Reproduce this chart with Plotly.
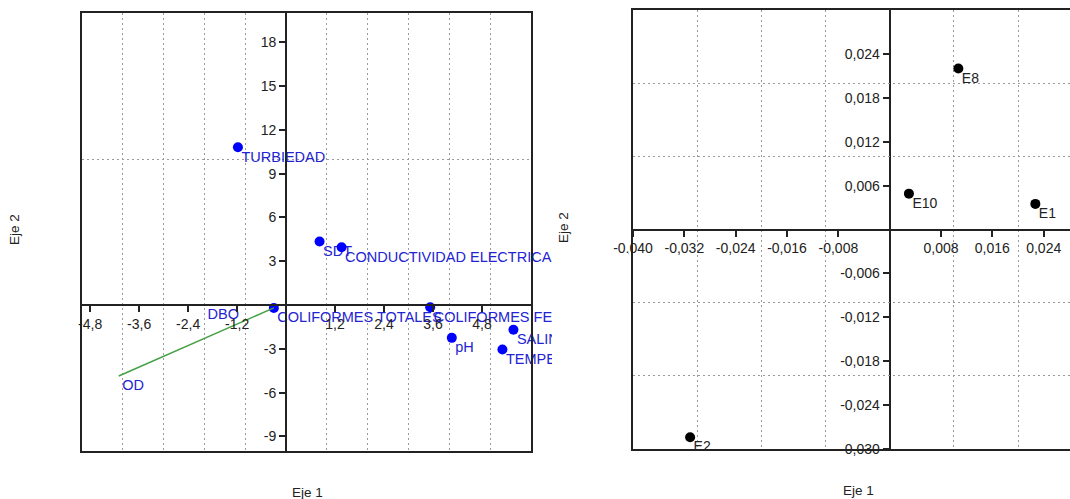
import plotly.graph_objects as go

# ---------------- data ----------------
var_names = ["TURBIEDAD", "SDT", "CONDUCTIVIDAD ELECTRICA", "COLIFORMES TOTALES",
             "COLIFORMES FECALES", "pH", "SALINIDAD", "TEMPERATURA", "DBO", "OD"]
var_x = [-1.18, 0.82, 1.36, -0.30, 3.53, 4.06, 5.57, 5.30, -2.01, -4.10]
var_y = [10.80, 4.35, 3.95, -0.20, -0.15, -2.25, -1.70, -3.05, 0.00, -4.86]
var_dot = [True, True, True, True, True, True, True, True, False, False]
od_link = ["OD", "COLIFORMES TOTALES"]

left_grid_x = [-4, -3, -2, -1, 1, 2, 3, 4, 5]
left_grid_y = [10]
left_ticks_x = [-4.8, -3.6, -2.4, -1.2, 1.2, 2.4, 3.6, 4.8]
left_ticks_y = [18, 15, 12, 9, 6, 3, -3, -6, -9]

site_names = ["E8", "E10", "E1", "E2"]
site_x = [0.0107, 0.0030, 0.0227, -0.0311]
site_y = [0.0220, 0.0049, 0.0035, -0.0284]

right_grid_x = [-0.03, -0.02, -0.01, 0.01, 0.02]
right_grid_y = [-0.02, -0.01, 0.01, 0.02]
right_ticks_x = [-0.040, -0.032, -0.024, -0.016, -0.008, 0.008, 0.016, 0.024]
right_ticks_y = [0.024, 0.018, 0.012, 0.006, -0.006, -0.012, -0.018, -0.024, -0.030]

left_range_x = [-5, 6]
left_range_y = [-10, 20]
right_range_x = [-0.040, 0.0281]
right_range_y = [-0.030, 0.030]

# ---------------- layout helpers ----------------
W, H = 1070, 499
FONT = "Liberation Sans, Arial, sans-serif"
DARK = "#222222"
GRID = "#9a9a9a"
BLUE = "#0000ff"
BLUE_TXT = "#2323d2"


def fx(px):
    return px / W


def fy(py):
    return 1 - py / H


L_dx = [fx(82), fx(531)]
L_dy = [fy(451), fy(13)]
R_dx = [fx(633), 1.0]
R_dy = [fy(449), fy(10)]


def zero_pos(dom, rng):
    return dom[0] + (0 - rng[0]) / (rng[1] - rng[0]) * (dom[1] - dom[0])


def fmt(v, d):
    return f"{v:.{d}f}".replace(".", ",")


fig = go.Figure()

# ---- left panel ----
fig.add_trace(go.Scatter(
    x=var_x, y=var_y, text=var_names, mode="markers+text",
    textposition="bottom right",
    marker=dict(size=4, color="rgba(0,0,0,0)"),
    textfont=dict(family=FONT, size=14.5, color=BLUE_TXT),
    cliponaxis=False, hoverinfo="skip", showlegend=False,
    xaxis="x", yaxis="y"))

ia, ib = var_names.index(od_link[0]), var_names.index(od_link[1])
fig.add_trace(go.Scatter(
    x=[var_x[ia], var_x[ib]], y=[var_y[ia], var_y[ib]], mode="lines",
    line=dict(color="#45a045", width=1.5), hoverinfo="skip", showlegend=False,
    xaxis="x3", yaxis="y"))

fig.add_trace(go.Scatter(
    x=[x for x, d in zip(var_x, var_dot) if d],
    y=[y for y, d in zip(var_y, var_dot) if d],
    mode="markers", marker=dict(size=10, color=BLUE),
    hoverinfo="skip", showlegend=False, xaxis="x", yaxis="y3"))

# ---- right panel ----
fig.add_trace(go.Scatter(
    x=site_x, y=site_y, text=site_names, mode="markers+text",
    textposition="bottom right",
    marker=dict(size=4, color="rgba(0,0,0,0)"),
    textfont=dict(family=FONT, size=14, color=DARK),
    cliponaxis=True, hoverinfo="skip", showlegend=False,
    xaxis="x4", yaxis="y2"))
fig.add_trace(go.Scatter(
    x=site_x, y=site_y, mode="markers", marker=dict(size=10, color="#000000"),
    hoverinfo="skip", showlegend=False, xaxis="x2", yaxis="y4"))

frame = dict(showline=True, linecolor=DARK, linewidth=1.5, showgrid=True,
             gridcolor=GRID, gridwidth=1, griddash="2px,3px", tickmode="array",
             showticklabels=False, ticks="", zeroline=False, fixedrange=True,
             automargin=False)
zero_ax = dict(anchor="free", showline=True, linecolor=DARK, linewidth=2,
               showgrid=False, zeroline=False, tickmode="array", ticks="outside",
               ticklen=6, tickwidth=1.5, tickcolor=DARK, automargin=False,
               tickfont=dict(family=FONT, size=14, color=DARK), fixedrange=True)

fig.update_layout(
    width=W, height=H, margin=dict(l=0, r=0, t=0, b=0, autoexpand=False),
    paper_bgcolor="white", plot_bgcolor="rgba(0,0,0,0)", showlegend=False,
    font=dict(family=FONT, size=14, color=DARK),
    xaxis=dict(frame, domain=L_dx, range=left_range_x, anchor="y", mirror=True,
               tickvals=left_grid_x),
    yaxis=dict(frame, domain=L_dy, range=left_range_y, anchor="x", mirror=True,
               tickvals=left_grid_y),
    xaxis2=dict(frame, domain=R_dx, range=right_range_x, anchor="y2", mirror=True,
                tickvals=right_grid_x),
    yaxis2=dict(frame, domain=R_dy, range=right_range_y, anchor="x2", mirror=False,
                tickvals=right_grid_y),
    xaxis3=dict(zero_ax, overlaying="x", range=left_range_x,
                position=zero_pos(L_dy, left_range_y),
                tickvals=left_ticks_x, ticktext=[fmt(v, 1) for v in left_ticks_x]),
    yaxis3=dict(zero_ax, overlaying="y", range=left_range_y,
                position=zero_pos(L_dx, left_range_x),
                tickvals=left_ticks_y, ticktext=[fmt(v, 0) for v in left_ticks_y]),
    xaxis4=dict(zero_ax, overlaying="x2", range=right_range_x,
                position=zero_pos(R_dy, right_range_y),
                tickvals=right_ticks_x, ticktext=[fmt(v, 3) for v in right_ticks_x]),
    yaxis4=dict(zero_ax, overlaying="y2", range=right_range_y,
                position=zero_pos(R_dx, right_range_x),
                tickvals=right_ticks_y, ticktext=[fmt(v, 3) for v in right_ticks_y]),
    shapes=[dict(type="rect", xref="paper", yref="paper", layer="above",
                 x0=fx(552), x1=fx(628), y0=fy(385), y1=fy(253),
                 fillcolor="white", line=dict(width=0))],
    annotations=[
        dict(text="Eje 1", xref="paper", yref="paper", x=fx(307), y=fy(492),
             xanchor="center", yanchor="middle",
             showarrow=False, font=dict(size=13.5, color=DARK)),
        dict(text="Eje 1", xref="paper", yref="paper", x=fx(858), y=fy(490),
             xanchor="center", yanchor="middle",
             showarrow=False, font=dict(size=13.5, color=DARK)),
        dict(text="Eje 2", xref="paper", yref="paper", x=fx(14), y=fy(230),
             xanchor="center", yanchor="middle",
             showarrow=False, textangle=-90, font=dict(size=13.5, color=DARK)),
        dict(text="Eje 2", xref="paper", yref="paper", x=fx(563), y=fy(228),
             xanchor="center", yanchor="middle",
             showarrow=False, textangle=-90, font=dict(size=13.5, color=DARK)),
    ],
)

fig.write_html("out.html")
